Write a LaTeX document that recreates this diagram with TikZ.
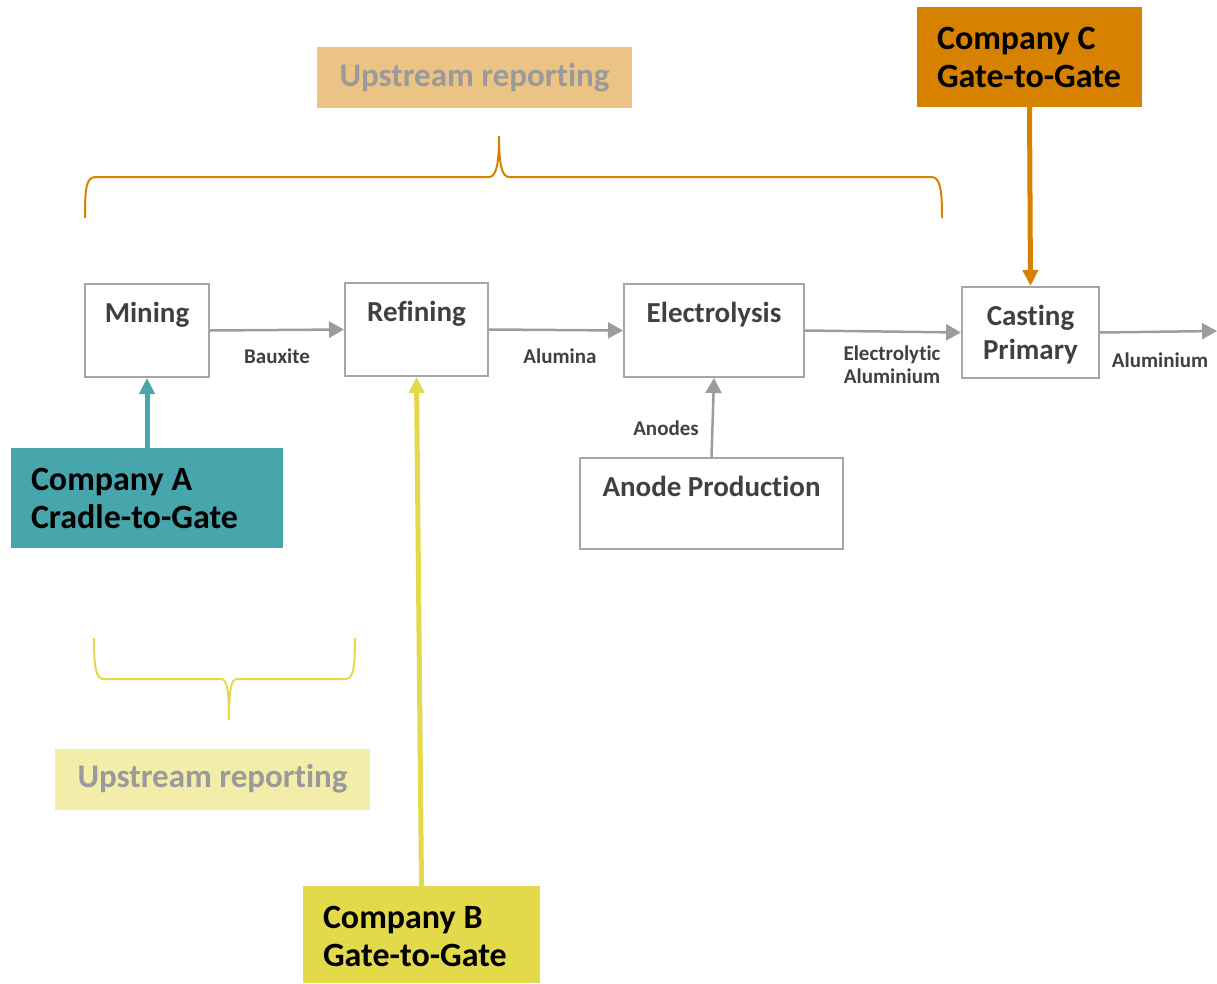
\documentclass[tikz,border=0pt]{standalone}
\usepackage{fontspec}
\setmainfont{Carlito}[Ligatures={NoCommon}]
\usetikzlibrary{arrows.meta}
\definecolor{boxline}{HTML}{A6A6A6}
\definecolor{arrowgray}{HTML}{9C9C9C}
\definecolor{txtgray}{HTML}{404040}
\definecolor{cA}{HTML}{47A5AC}
\definecolor{cB}{HTML}{E3DA4B}
\definecolor{cC}{HTML}{D68200}
\definecolor{upO}{HTML}{EAC385}
\definecolor{upY}{HTML}{F2EDA8}
\definecolor{uptext}{HTML}{9A9A9A}
\newcommand{\tightsp}{\hspace{0.23em}}
\begin{document}
\begin{tikzpicture}[x=1pt,y=-1pt,
  proc/.style={draw=boxline, line width=2pt, fill=white,
    font=\bfseries\fontsize{29}{34}\selectfont, text=txtgray, align=center,
    inner xsep=4pt, inner ysep=16pt, text height=22pt},
  comp/.style={font=\bfseries\fontsize{34}{38}\selectfont, text=black, align=left,
    inner xsep=20pt, inner ysep=20pt, text height=22pt},
  upbox/.style={font=\bfseries\fontsize{33}{38}\selectfont, text=uptext,
    minimum width=315pt, minimum height=61pt, inner sep=0pt},
  lbl/.style={font=\bfseries\fontsize{21}{23}\selectfont, text=txtgray, align=center, inner sep=0pt},
  garrow/.style={draw=arrowgray, line width=2.5pt, -{Triangle[length=15pt,width=16pt]}},
  carrow/.style={line width=5pt, -{Triangle[length=16pt,width=15pt]}},
  brace/.style={line width=2pt}
]
\useasboundingbox (0,0) rectangle (1217,983);

% upstream reporting boxes
\node[upbox, fill=upO] (upTop) at (474.5,77.5) {Upstream reporting};
\node[upbox, fill=upY] (upBot) at (212.5,779) {Upstream reporting};

% braces
\draw[brace, cC] (85,218) .. controls (85,188) and (86,177) .. (96,177) -- (489,177)
  .. controls (496,177) and (499,165) .. (499,136)
  .. controls (499,165) and (502,177) .. (509,177) -- (931,177)
  .. controls (940,177) and (942,188) .. (942,218);
\draw[brace, cB] (94,638) .. controls (94,668) and (96,679) .. (104,679) -- (221,679)
  .. controls (227,679) and (229,690) .. (229,720)
  .. controls (229,690) and (231,679) .. (237,679) -- (346,679)
  .. controls (353,679) and (355,668) .. (355,638);

% process boxes
\node[proc, minimum width=124pt, text depth=39pt] (mining) at (147,330.5) {Mining};
\node[proc, minimum width=143pt, text depth=39pt] (refining) at (416.5,329.5) {Refining};
\node[proc, minimum width=180pt, text depth=39pt] (electro) at (714,330.5) {Electrolysis};
\node[proc, text width=129pt, text depth=37pt] (casting) at (1030.5,332.5) {Casting\\Primary};
\node[proc, minimum width=263pt, text depth=37pt] (anode) at (711.5,503.5) {Anode Production};
\coordinate (outR) at (1217,331);

% company boxes
\node[comp, fill=cA, text width=232pt, text depth=38pt] (compA) at (147,498) {Company\tightsp A\\Cradle-to-Gate};
\node[comp, fill=cB, text width=197pt, text depth=35pt] (compB) at (421.5,934.5) {Company\tightsp B\\Gate-to-Gate};
\node[comp, fill=cC, text width=185pt, text depth=38pt] (compC) at (1029.5,57) {Company\tightsp C\\Gate-to-Gate};

% flow arrows
\draw[garrow] (mining.east) -- (refining.west);
\draw[garrow] (refining.east) -- (electro.west);
\draw[garrow] (electro.east) -- (casting.west);
\draw[garrow] (casting.east) -- (outR);
\draw[garrow] (anode.north) -- (electro.south);

% flow labels
\node[lbl] (lBaux) at (277,356) {Bauxite};
\node[lbl] (lAlum) at (560,356) {Alumina};
\node[lbl] (lElec) at (892,365) {Electrolytic\\Aluminium};
\node[lbl] (lAlu) at (1160,360) {Aluminium};
\node[lbl] (lAnod) at (666,428) {Anodes};

% company arrows
\draw[carrow, cA] (compA.north) -- (mining.south);
\draw[carrow, cB] (compB.north) -- (refining.south);
\draw[carrow, cC] (compC.south) -- (casting.north);
\end{tikzpicture}
\end{document}
